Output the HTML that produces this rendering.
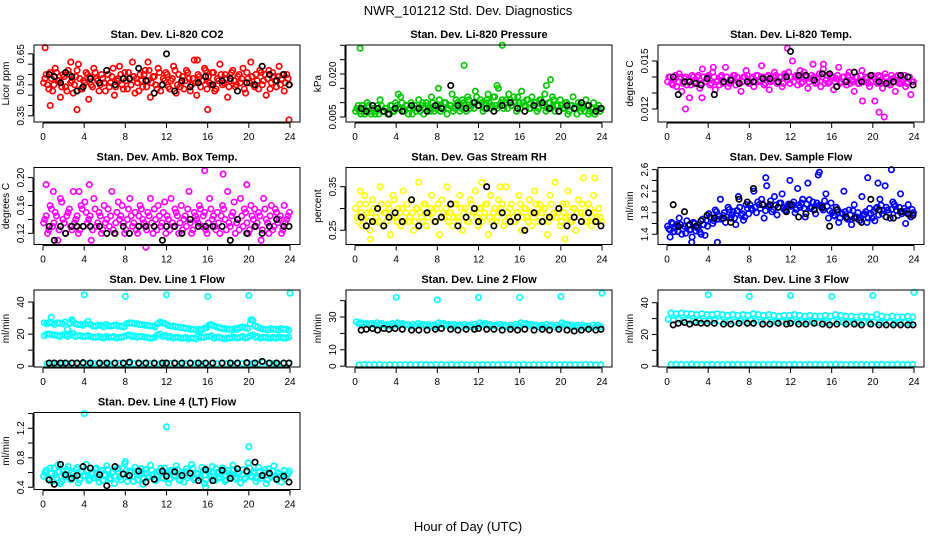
<!DOCTYPE html>
<html><head><meta charset="utf-8">
<style>
html,body{margin:0;padding:0;background:#fff;}
svg{display:block;font-family:"Liberation Sans",Arial,sans-serif;}
</style></head>
<body>
<svg id="chart" width="936" height="540" viewBox="0 0 936 540">
<text x="468" y="15" text-anchor="middle" font-size="13">NWR_101212 Std. Dev. Diagnostics</text>
<text x="468" y="531" text-anchor="middle" font-size="13">Hour of Day (UTC)</text>
</svg>
<script>
// ---- data ----
const xTicks = [0,4,8,12,16,20,24];
const blackHrs = [0.6,1.1,1.7,2.2,2.8,3.3,3.9,4.6,5.5,6.2,7.0,7.8,8.4,9.3,10.0,10.8,11.6,12.0,12.8,13.5,14.3,15.1,15.8,16.5,17.4,18.2,18.9,19.8,20.6,21.3,22.0,22.7,23.4,23.9];

const co2Vals = [0.53,0.50,0.56,0.47,0.58,0.52,0.44,0.55,0.49,0.57,0.51,0.46,0.54,0.60,0.48,0.52,0.56,0.43,0.50,0.58,0.53,0.47,0.55,0.51,0.57,0.49,0.54,0.45,0.52,0.59,0.50,0.56,0.48,0.53,0.61,0.46,0.51,0.55,0.49,0.57,0.52,0.44,0.54,0.50,0.58,0.47,0.53,0.56,0.49,0.52,0.59,0.46,0.55,0.51,0.48,0.57,0.53,0.50,0.62,0.45,0.54,0.52,0.58,0.48,0.51,0.56,0.47,0.53,0.60,0.50,0.55,0.44,0.52,0.57,0.49,0.54,0.51,0.58,0.46,0.53,0.61,0.50,0.55,0.48,0.56,0.52,0.45,0.57,0.51,0.54,0.49,0.59,0.53,0.47,0.55,0.50];
const co2Vals2 = [0.51,0.55,0.48,0.53,0.50,0.56,0.52,0.49,0.54,0.47,0.55,0.52,0.50,0.57,0.53,0.48,0.51,0.55,0.54,0.49,0.56,0.52,0.50,0.53,0.47,0.55,0.51,0.58,0.49,0.53,0.55,0.48,0.52,0.56,0.50,0.54,0.53,0.47,0.52,0.55,0.49,0.57,0.51,0.54,0.48,0.56,0.50,0.52,0.55,0.48,0.53,0.57,0.50,0.49,0.54,0.52,0.56,0.47,0.53,0.51,0.55,0.49,0.52,0.57,0.54,0.50,0.56,0.48,0.52,0.55,0.51,0.53,0.49,0.56,0.52,0.50,0.55,0.53,0.48,0.56,0.51,0.54,0.49,0.52,0.57,0.50,0.55,0.53,0.48,0.56,0.52,0.54,0.50,0.55,0.51,0.53];
const co2Black = [0.55,0.54,0.51,0.56,0.54,0.47,0.49,0.53,0.51,0.57,0.50,0.53,0.53,0.58,0.52,0.46,0.50,0.65,0.47,0.52,0.49,0.51,0.54,0.50,0.52,0.53,0.47,0.51,0.50,0.59,0.55,0.52,0.55,0.50];
const co2Out = [[0.2,0.68],[3.3,0.38],[0.7,0.40],[23.9,0.33],[16.0,0.38],[15.0,0.62],[2.7,0.61],[10.2,0.61]];

const presVals = [0.008,0.007,0.009,0.006,0.010,0.007,0.008,0.006,0.009,0.011,0.007,0.008,0.006,0.009,0.007,0.010,0.008,0.012,0.007,0.009,0.006,0.010,0.008,0.007,0.011,0.009,0.006,0.010,0.008,0.012,0.007,0.009,0.011,0.008,0.010,0.006,0.009,0.013,0.008,0.010,0.007,0.011,0.009,0.012,0.008,0.010,0.014,0.009,0.011,0.007,0.010,0.013,0.008,0.012,0.009,0.015,0.010,0.008,0.011,0.013,0.009,0.012,0.007,0.010,0.014,0.009,0.011,0.008,0.012,0.010,0.007,0.011,0.009,0.013,0.008,0.010,0.012,0.007,0.009,0.011,0.008,0.010,0.006,0.009,0.012,0.008,0.010,0.007,0.009,0.011,0.006,0.008,0.010,0.007,0.009,0.008];
const presVals2 = [0.007,0.009,0.006,0.008,0.007,0.009,0.006,0.008,0.007,0.006,0.009,0.007,0.008,0.006,0.009,0.007,0.009,0.008,0.010,0.007,0.009,0.008,0.006,0.009,0.008,0.007,0.010,0.008,0.009,0.007,0.010,0.008,0.009,0.007,0.008,0.010,0.008,0.009,0.007,0.011,0.009,0.008,0.010,0.007,0.011,0.009,0.008,0.012,0.009,0.010,0.008,0.011,0.010,0.009,0.012,0.008,0.009,0.011,0.010,0.008,0.011,0.009,0.010,0.012,0.008,0.010,0.009,0.011,0.008,0.009,0.010,0.008,0.011,0.009,0.007,0.010,0.008,0.011,0.009,0.007,0.009,0.008,0.010,0.007,0.009,0.008,0.006,0.009,0.008,0.007,0.009,0.007,0.008,0.006,0.008,0.007];
const presBlack = [0.008,0.007,0.009,0.008,0.007,0.006,0.008,0.007,0.009,0.008,0.007,0.009,0.008,0.016,0.009,0.008,0.010,0.009,0.008,0.007,0.009,0.010,0.008,0.007,0.009,0.010,0.008,0.007,0.009,0.008,0.010,0.009,0.007,0.008];
const presOut = [[0.5,0.029],[10.6,0.023],[14.3,0.030],[19.0,0.018],[4.2,0.013],[8.1,0.015],[13.8,0.016],[18.6,0.016]];

const tempVals = [0.0140,0.0136,0.0138,0.0134,0.0142,0.0131,0.0139,0.0135,0.0127,0.0141,0.0136,0.0140,0.0133,0.0145,0.0137,0.0140,0.0135,0.0143,0.0132,0.0138,0.0140,0.0136,0.0146,0.0134,0.0139,0.0141,0.0135,0.0137,0.0131,0.0140,0.0144,0.0136,0.0139,0.0134,0.0141,0.0137,0.0147,0.0135,0.0140,0.0132,0.0138,0.0143,0.0136,0.0140,0.0134,0.0142,0.0138,0.0136,0.0150,0.0140,0.0135,0.0144,0.0137,0.0141,0.0133,0.0139,0.0148,0.0136,0.0140,0.0134,0.0145,0.0138,0.0136,0.0141,0.0132,0.0139,0.0146,0.0137,0.0140,0.0135,0.0143,0.0138,0.0131,0.0140,0.0136,0.0144,0.0137,0.0139,0.0134,0.0141,0.0125,0.0136,0.0140,0.0133,0.0142,0.0137,0.0135,0.0139,0.0131,0.0141,0.0136,0.0138,0.0134,0.0140,0.0129,0.0137];
const tempVals2 = [0.0137,0.0140,0.0135,0.0141,0.0137,0.0140,0.0136,0.0140,0.0138,0.0135,0.0140,0.0137,0.0141,0.0136,0.0140,0.0137,0.0141,0.0136,0.0140,0.0137,0.0135,0.0141,0.0137,0.0140,0.0136,0.0138,0.0141,0.0140,0.0136,0.0137,0.0140,0.0141,0.0136,0.0140,0.0137,0.0141,0.0138,0.0140,0.0136,0.0141,0.0137,0.0140,0.0141,0.0137,0.0140,0.0136,0.0141,0.0143,0.0140,0.0137,0.0141,0.0140,0.0136,0.0143,0.0140,0.0137,0.0141,0.0140,0.0137,0.0142,0.0140,0.0136,0.0141,0.0137,0.0140,0.0137,0.0141,0.0136,0.0140,0.0137,0.0141,0.0136,0.0137,0.0140,0.0136,0.0141,0.0137,0.0140,0.0136,0.0137,0.0140,0.0137,0.0141,0.0136,0.0137,0.0140,0.0136,0.0141,0.0137,0.0140,0.0136,0.0137,0.0141,0.0136,0.0140,0.0137];
const tempBlack = [0.0140,0.0129,0.0137,0.0137,0.0136,0.0135,0.0139,0.0129,0.0137,0.0138,0.0136,0.0137,0.0137,0.0139,0.0139,0.0137,0.0140,0.0156,0.0141,0.0141,0.0138,0.0142,0.0142,0.0134,0.0137,0.0143,0.0137,0.0141,0.0137,0.0136,0.0137,0.0141,0.0140,0.0135];
const tempOut = [[1.8,0.0120],[11.7,0.0158],[20.6,0.0118],[21.1,0.0115],[15.2,0.0148],[19.0,0.0125],[3.4,0.0127],[4.5,0.0146]];

const ambVals = [0.14,0.12,0.16,0.13,0.15,0.11,0.17,0.14,0.12,0.15,0.13,0.18,0.14,0.12,0.16,0.13,0.15,0.14,0.11,0.17,0.13,0.15,0.12,0.16,0.14,0.13,0.18,0.12,0.15,0.14,0.16,0.12,0.14,0.17,0.13,0.15,0.12,0.16,0.14,0.13,0.15,0.17,0.12,0.14,0.16,0.13,0.15,0.12,0.14,0.17,0.13,0.15,0.12,0.16,0.14,0.13,0.18,0.12,0.15,0.14,0.16,0.13,0.15,0.12,0.17,0.14,0.13,0.15,0.12,0.16,0.14,0.18,0.13,0.15,0.12,0.14,0.17,0.13,0.15,0.12,0.16,0.14,0.13,0.15,0.11,0.17,0.14,0.12,0.16,0.13,0.15,0.14,0.12,0.16,0.14,0.15];
const ambVals2 = [0.135,0.145,0.125,0.155,0.135,0.145,0.125,0.165,0.135,0.145,0.155,0.125,0.135,0.145,0.125,0.155,0.165,0.135,0.145,0.125,0.155,0.135,0.145,0.125,0.135,0.155,0.145,0.125,0.135,0.165,0.145,0.135,0.125,0.155,0.145,0.135,0.125,0.145,0.155,0.135,0.125,0.145,0.135,0.155,0.125,0.145,0.135,0.165,0.145,0.125,0.135,0.155,0.145,0.135,0.125,0.145,0.155,0.135,0.125,0.145,0.135,0.155,0.145,0.125,0.135,0.155,0.145,0.125,0.135,0.145,0.155,0.125,0.135,0.145,0.165,0.135,0.125,0.145,0.155,0.135,0.125,0.145,0.155,0.135,0.145,0.125,0.155,0.135,0.145,0.125,0.155,0.135,0.145,0.125,0.135,0.145];
const ambBlack = [0.13,0.11,0.13,0.12,0.13,0.13,0.13,0.13,0.13,0.12,0.12,0.13,0.12,0.13,0.13,0.13,0.11,0.13,0.13,0.12,0.14,0.13,0.13,0.13,0.13,0.11,0.14,0.12,0.13,0.12,0.13,0.14,0.13,0.13];
const ambOut = [[0.3,0.19],[4.5,0.19],[15.7,0.21],[17.5,0.205],[10.0,0.10],[19.8,0.19],[1.0,0.18],[3.5,0.18]];

const rhVals = [0.28,0.31,0.26,0.33,0.29,0.25,0.32,0.27,0.30,0.35,0.26,0.29,0.31,0.24,0.33,0.28,0.30,0.26,0.34,0.29,0.27,0.32,0.25,0.30,0.36,0.28,0.31,0.26,0.29,0.33,0.27,0.30,0.24,0.32,0.28,0.35,0.29,0.26,0.31,0.28,0.33,0.25,0.30,0.27,0.32,0.29,0.34,0.26,0.30,0.28,0.31,0.24,0.33,0.29,0.27,0.32,0.30,0.26,0.35,0.28,0.31,0.27,0.29,0.33,0.25,0.30,0.28,0.32,0.26,0.34,0.29,0.31,0.27,0.30,0.24,0.33,0.28,0.36,0.29,0.26,0.31,0.28,0.34,0.27,0.30,0.25,0.32,0.29,0.37,0.27,0.31,0.26,0.33,0.28,0.30,0.27];
const rhVals2 = [0.30,0.27,0.29,0.28,0.31,0.27,0.29,0.30,0.28,0.27,0.31,0.29,0.27,0.30,0.28,0.32,0.27,0.29,0.30,0.27,0.31,0.28,0.29,0.27,0.30,0.29,0.27,0.31,0.28,0.30,0.29,0.27,0.31,0.28,0.29,0.30,0.27,0.29,0.28,0.31,0.27,0.30,0.29,0.28,0.27,0.31,0.29,0.28,0.30,0.27,0.29,0.31,0.28,0.27,0.30,0.28,0.29,0.31,0.27,0.29,0.30,0.28,0.27,0.29,0.31,0.28,0.30,0.27,0.29,0.28,0.31,0.27,0.29,0.30,0.28,0.27,0.31,0.29,0.28,0.30,0.27,0.29,0.31,0.28,0.27,0.30,0.29,0.28,0.31,0.29,0.27,0.30,0.28,0.29,0.27,0.28];
const rhBlack = [0.28,0.26,0.27,0.30,0.26,0.28,0.29,0.27,0.32,0.26,0.29,0.27,0.28,0.31,0.26,0.28,0.30,0.27,0.35,0.26,0.29,0.27,0.28,0.25,0.29,0.27,0.28,0.30,0.26,0.28,0.27,0.29,0.27,0.26];
const rhOut = [[0.5,0.34],[12.3,0.36],[23.3,0.37],[20.4,0.23],[1.5,0.23],[14.1,0.35]];

const flowVals = [1.50,1.62,1.45,1.58,1.70,1.40,1.55,1.65,1.48,1.35,1.60,1.52,1.44,1.68,1.38,1.55,1.72,1.60,1.85,1.68,2.05,1.75,1.62,1.90,1.70,1.82,1.58,2.10,1.75,1.66,1.95,1.78,1.88,2.20,1.80,1.95,2.05,1.70,2.30,1.90,1.82,2.10,1.76,1.98,2.15,1.85,1.92,2.40,1.95,1.80,2.25,1.90,2.05,1.72,2.35,1.88,2.00,1.78,2.50,1.92,1.85,2.15,1.70,1.98,1.75,1.90,1.62,1.80,2.20,1.70,1.85,1.58,1.95,1.72,1.66,2.10,1.78,1.62,1.88,1.70,1.65,1.90,2.05,1.78,2.30,1.85,1.70,2.00,1.92,1.75,2.15,1.82,1.60,1.95,1.72,1.80];
const flowVals2 = [1.55,1.48,1.60,1.52,1.45,1.58,1.50,1.42,1.56,1.49,1.62,1.46,1.53,1.40,1.58,1.66,1.78,1.70,1.65,1.82,1.74,1.68,1.80,1.72,1.86,1.76,1.70,1.84,1.90,1.78,1.72,1.88,1.95,1.85,1.90,2.00,1.88,1.96,1.84,1.92,2.02,1.86,1.94,1.90,1.98,1.88,1.84,1.96,1.92,2.00,1.86,1.94,1.98,1.88,1.96,2.04,1.90,1.86,1.98,1.94,1.88,2.02,1.92,1.84,1.80,1.74,1.86,1.70,1.78,1.82,1.68,1.76,1.84,1.72,1.80,1.66,1.76,1.82,1.70,1.78,1.82,1.88,1.76,1.94,1.84,1.90,1.80,1.86,1.96,1.84,1.90,1.78,1.88,1.84,1.76,1.86];
const flowBlack = [1.95,1.55,1.82,1.58,1.55,1.65,1.75,1.70,1.70,1.62,2.05,2.00,2.25,1.95,1.95,1.90,1.82,1.95,1.72,1.78,1.85,1.90,1.55,1.85,1.72,1.70,1.62,2.05,1.85,1.72,1.70,1.82,1.78,1.75];
const flowOut = [[0.3,1.35],[20.5,2.35],[14.8,2.55],[19.5,2.45],[21.8,2.60],[2.4,1.25],[9.6,2.45],[4.9,1.25]];

const l1Upper = [26.5,26.8,27,26.5,23,28,26,25.5,28,25,25.5,24.5,25,25.5,25,24.5,27,26.5,26,25.5,25,24.5,27.5,26.5,25,24.5,24,23.5,23,22.5,22.5,24,26,24.5,23.5,23,22.5,23,24.5,23.5,28.5,24.5,23,22.5,23,22.5,23,22.5];
const l1Upper2 = [27,27.5,26,27,27.5,27,26.5,26,26.5,26,25,25.5,26,25,25.5,25,26.5,27,26.5,26,25.5,25,26.5,27,25.5,25,24.5,24,23.5,23,23,23.5,25.5,25,24,23.5,23,23.5,24,24,26.5,25,23.5,23,23.5,23,23.5,23];
const l1Lower = [20,19.5,19,19.5,18.5,20.5,19,18.5,19,18,18.5,17.5,18,18.5,18,18.5,19.5,19,18.5,18,17.5,18,20,19,18.5,18,17.5,18,17.5,17,18,18.5,19,18,17.5,17.5,18,17.5,18.5,18,19.5,18.5,18,17.5,18,18,17.5,18];
const l1Lower2 = [19,20,19.5,18.5,19.5,19.5,18.5,19,18.5,18.5,18,18,18.5,18,17.5,18,19,18.5,18,18.5,18,17.5,19.5,18.5,18,17.5,18,17.5,17,17.5,18.5,18,18.5,17.5,18,17,17.5,18,18,17.5,19,18,17.5,18,17.5,17.5,18,17.5];
const l1Floor = [1.5,1.8,1.6,1.7,1.5,1.9,1.6,1.5,1.7,1.8,1.6,1.5,1.7,1.6,1.8,1.5,1.6,1.7,1.5,1.8,1.6,1.7,1.5,1.6,1.8,1.7,1.5,1.6,1.7,1.8,1.5,1.6,1.7,1.5,1.8,1.6,1.7,1.5,1.6,1.8,1.7,1.5,2.5,1.6,1.7,1.5,1.6,1.7];
const l1Black = [2,2,2,2,2,2,2.2,2,2,2,2,2,2.5,2,2,2,2,2,2,2,2,2,2,2,2,2,2,2.2,2,3,2,2,2,2];
const l1Out = [[4,44.5],[8,43.5],[12,44.5],[16,43.5],[20,44],[24,45.5],[0.8,30.5],[2.8,29],[20.2,29]];

const l2Upper = [26,25.5,25.5,25,25.5,25,24.5,25,25.5,25,24.5,24.5,25,24.5,24.5,24,25.5,25,24.5,24.5,24,24.5,24,24.5,25.5,25,24.5,24,24.5,24,24,24.5,25.5,25,24.5,24,24,24.5,24,24,25.5,24.5,24,24,24,23.5,24,24];
const l2Upper2 = [27,26.5,26,26,26.5,26,25.5,26,26.5,26,25.5,25.5,26,25.5,25.5,25,26.5,26,25.5,25.5,25,25.5,25,25.5,26.5,26,25.5,25,25.5,25,25,25.5,26.5,26,25.5,25,25,25.5,25,25,26.5,25.5,25,25,25,24.5,25,25];
const l2Mid = [23.5,24,24.5,24,23,23.5,24,23.5,23,24,23.5,23,23.5,24,23.5,23,23,23.5,24,23.5,23,23.5,23,23,23.5,24,23.5,23,23.5,23,23,22.5,23.5,23,23.5,23,22.5,23,23.5,23,23.5,23,22.5,23,23,22.5,23,23];
const l2Floor = [0.8,1,0.8,0.9,1,0.8,0.9,0.8,1,0.8,0.9,0.8,1,0.9,0.8,0.9,1,0.8,0.9,0.8,1,0.9,0.8,0.9,1,0.8,0.9,0.8,1,0.9,0.8,0.9,1,0.8,0.9,0.8,1,0.9,0.8,0.9,1,0.8,0.9,0.8,1,0.9,0.8,0.9];
const l2Black = [22,22.5,23,22,23,22.5,23,22.5,22,22,22,22.5,23,22.5,22,22.5,22.5,23,22.5,22.5,22,22.5,22,22.5,22,22.5,22,22.5,22,21.5,22,22.5,22,22.5];
const l2Out = [[4,42],[8,40.5],[12,42],[16,42],[20,42.5],[24,44.5]];

const l3Upper = [33.5,33,33.5,33,33,32.5,33,32.5,32.5,33,32.5,32,32.5,32,32.5,32,33,32.5,32,32.5,32,31.5,32,32,32.5,32,31.5,32,31.5,31.5,32,31.5,32.5,32,31.5,31.5,31,31.5,31.5,31,32.5,31.5,31,31.5,31,31,31.5,31];
const l3Lower = [29.5,29,29.5,29,29,28.5,29,28.5,28.5,29,28.5,28,28.5,28,28.5,28,29,28.5,28,28.5,28,28,28,28,28.5,28,27.5,28,28,27.5,28,27.5,28.5,28,27.5,27.5,27.5,27.5,27.5,27.5,28,27.5,27.5,27.5,27,27.5,27.5,27];
const l3Floor = [1,1.2,1,1.1,1.2,1,1.1,1,1.2,1,1.1,1,1.2,1.1,1,1.1,1.2,1,1.1,1,1.2,1.1,1,1.1,1.2,1,1.1,1,1.2,1.1,1,1.1,1.2,1,1.1,1,1.2,1.1,1,1.1,1.2,1,1.1,1,1.2,1.1,1,1.1];
const l3Black = [26,27,27.5,26.5,27.5,27,27,27,26.5,26.5,27,27,27,26.5,26.5,27,26.5,27,26.5,26.5,27,26.5,26,26.5,26.5,26.5,26,26.5,26,26,26,26,26,26];
const l3Out = [[4,45],[8,44],[12,44.5],[16,44],[20,44.5],[24,46.5]];

const l4Vals = [0.60,0.52,0.66,0.48,0.57,0.70,0.45,0.62,0.54,0.68,0.50,0.58,0.64,0.46,0.61,0.55,0.71,0.49,0.59,0.53,0.66,0.47,0.63,0.56,0.69,0.51,0.60,0.45,0.65,0.54,0.58,0.72,0.48,0.62,0.55,0.67,0.50,0.59,0.44,0.64,0.53,0.70,0.57,0.49,0.61,0.66,0.52,0.58,0.46,0.63,0.55,0.69,0.51,0.60,0.47,0.65,0.56,0.71,0.50,0.59,0.53,0.67,0.45,0.62,0.57,0.68,0.49,0.60,0.54,0.66,0.48,0.63,0.56,0.70,0.51,0.59,0.46,0.64,0.53,0.73,0.55,0.61,0.48,0.67,0.52,0.60,0.45,0.65,0.54,0.69,0.50,0.58,0.47,0.63,0.56,0.62];
const l4Vals2 = [0.55,0.63,0.50,0.59,0.66,0.53,0.61,0.48,0.57,0.64,0.52,0.60,0.55,0.67,0.50,0.62,0.56,0.63,0.51,0.58,0.65,0.53,0.60,0.49,0.57,0.64,0.52,0.61,0.55,0.66,0.50,0.58,0.63,0.54,0.60,0.48,0.62,0.56,0.65,0.52,0.59,0.55,0.63,0.50,0.57,0.61,0.53,0.66,0.58,0.51,0.62,0.56,0.64,0.49,0.57,0.61,0.53,0.60,0.66,0.52,0.58,0.55,0.63,0.50,0.61,0.54,0.59,0.65,0.52,0.57,0.62,0.50,0.59,0.55,0.64,0.53,0.60,0.57,0.51,0.62,0.66,0.54,0.59,0.52,0.61,0.56,0.64,0.50,0.58,0.62,0.53,0.60,0.55,0.57,0.51,0.59];
const l4Black = [0.50,0.44,0.71,0.57,0.52,0.56,0.68,0.66,0.57,0.42,0.68,0.58,0.56,0.62,0.47,0.51,0.62,0.55,0.61,0.56,0.59,0.49,0.64,0.49,0.63,0.52,0.65,0.62,0.74,0.56,0.59,0.51,0.55,0.47];
const l4Out = [[4,1.40],[12,1.22],[20,0.95],[15.8,0.40],[8,0.75]];

// ---- layout ----
const colX = [34, 346, 658];
const rowY = [45, 167.5, 290, 412.5];
const boxW = 266, boxH = 77;
const NS = 'http://www.w3.org/2000/svg';
const svg = document.getElementById('chart');

function mk(tag, attrs, parent){
  const e = document.createElementNS(NS, tag);
  for (const k in attrs) e.setAttribute(k, attrs[k]);
  (parent||svg).appendChild(e);
  return e;
}

const panels = [
 {title:'Stan. Dev. Li-820 CO2', ylab:'Licor ppm', col:0,row:0, ymin:0.32, ymax:0.693, ticks:[0.35,0.40,0.45,0.50,0.55,0.60,0.65], labels:[0.35,0.50,0.65], fmt:2, color:'#ff0000', series:[co2Vals,co2Vals2], out:co2Out, black:co2Black},
 {title:'Stan. Dev. Li-820 Pressure', ylab:'kPa', col:1,row:0, ymin:0.00326, ymax:0.0301, ticks:[0.005,0.010,0.015,0.020,0.025,0.030], labels:[0.005,0.020], fmt:3, color:'#00cc00', series:[presVals,presVals2], out:presOut, black:presBlack},
 {title:'Stan. Dev. Li-820 Temp.', ylab:'degrees C', col:2,row:0, ymin:0.01119, ymax:0.0160, ticks:[0.012,0.013,0.014,0.015], labels:[0.012,0.015], fmt:3, color:'#ff00ff', series:[tempVals,tempVals2], out:tempOut, black:tempBlack},
 {title:'Stan. Dev. Amb. Box Temp.', ylab:'degrees C', col:0,row:1, ymin:0.104, ymax:0.2145, ticks:[0.12,0.14,0.16,0.18,0.20], labels:[0.12,0.16,0.20], fmt:2, color:'#ff00ff', series:[ambVals,ambVals2], out:ambOut, black:ambBlack},
 {title:'Stan. Dev. Gas Stream RH', ylab:'percent', col:1,row:1, ymin:0.2174, ymax:0.394, ticks:[0.25,0.30,0.35], labels:[0.25,0.35], fmt:2, color:'#ffff00', series:[rhVals,rhVals2], out:rhOut, black:rhBlack},
 {title:'Stan. Dev. Sample Flow', ylab:'ml/min', col:2,row:1, ymin:1.21, ymax:2.64, ticks:[1.4,1.6,1.8,2.0,2.2,2.4,2.6], labels:[1.4,1.8,2.2,2.6], fmt:1, color:'#0000ff', series:[flowVals,flowVals2], out:flowOut, black:flowBlack},
 {title:'Stan. Dev. Line 1 Flow', ylab:'ml/min', col:0,row:2, ymin:-0.5, ymax:47.5, ticks:[0,10,20,30,40], labels:[0,20,40], fmt:0, color:'#00ffff', series:[l1Upper,l1Upper2,l1Lower,l1Lower2,l1Floor], out:l1Out, black:l1Black},
 {title:'Stan. Dev. Line 2 Flow', ylab:'ml/min', col:1,row:2, ymin:-0.5, ymax:46.5, ticks:[0,10,20,30,40], labels:[0,10,30], fmt:0, color:'#00ffff', series:[l2Upper,l2Upper2,l2Floor], out:l2Out, black:l2Black},
 {title:'Stan. Dev. Line 3 Flow', ylab:'ml/min', col:2,row:2, ymin:-0.5, ymax:48, ticks:[0,10,20,30,40], labels:[0,20,40], fmt:0, color:'#00ffff', series:[l3Upper,l3Lower,l3Floor], out:l3Out, black:l3Black},
 {title:'Stan. Dev. Line 4 (LT) Flow', ylab:'ml/min', col:0,row:3, ymin:0.37, ymax:1.414, ticks:[0.4,0.6,0.8,1.0,1.2,1.4], labels:[0.4,0.8,1.2], fmt:1, color:'#00ffff', series:[l4Vals,l4Vals2], out:l4Out, black:l4Black},
];

panels.forEach((p, pi) => {
  const x0 = colX[p.col], y0 = rowY[p.row];
  const g = mk('g', {});
  
  
  const xs = h => x0 + 9 + h * (247/24);
  const ys = v => y0 + boxH - (v - p.ymin) / (p.ymax - p.ymin) * boxH;

  const t = mk('text', {x: x0 + boxW/2, y: y0 - 7, 'text-anchor':'middle', 'font-size':11, 'font-weight':'bold'}, g);
  t.textContent = p.title;
  
  

  const drawPt = (h, v, col, name) => {
    const c = mk('circle', {cx: xs(h).toFixed(1), cy: ys(v).toFixed(1), r: 2.7, fill:'none', stroke: col, 'stroke-width': 1.7}, g);
    
    
  };
  p.series.forEach((arr, si) => {
    const step = 24 / arr.length;
    const off = si % 2 ? step * 0.25 : step * 0.75;
    arr.forEach((v, i) => drawPt(i * step + off, v, p.color, 'data-point'));
  });
  p.out.forEach(o => drawPt(o[0], o[1], p.color, 'data-point'));
  p.black.forEach((v, i) => drawPt(blackHrs[i], v, '#000', 'reference-point'));

  const r = mk('rect', {x:x0, y:y0, width:boxW, height:boxH, fill:'none', stroke:'#000', 'stroke-width':1}, g);
  
  

  const xa = mk('g', {}, g);
  
  
  mk('line', {x1:xs(0), x2:xs(24), y1:y0+boxH+1, y2:y0+boxH+1, stroke:'#000'}, xa);
  xTicks.forEach(tk => {
    mk('line', {x1:xs(tk), x2:xs(tk), y1:y0+boxH+1, y2:y0+boxH+6, stroke:'#000'}, xa);
    const tl = mk('text', {x:xs(tk), y:y0+boxH+18, 'text-anchor':'middle', 'font-size':10}, xa);
    tl.textContent = tk;
    
    
  });

  const ya = mk('g', {}, g);
  
  
  mk('line', {x1:x0-1, x2:x0-1, y1:ys(p.ticks[0]), y2:ys(p.ticks[p.ticks.length-1]), stroke:'#000'}, ya);
  p.ticks.forEach(tk => mk('line', {x1:x0-6, x2:x0-1, y1:ys(tk), y2:ys(tk), stroke:'#000'}, ya));
  p.labels.forEach(tk => {
    const yy = ys(tk);
    const tl = mk('text', {x:x0-10, y:yy, transform:`rotate(-90 ${x0-10} ${yy})`, 'text-anchor':'middle', 'font-size':10}, ya);
    tl.textContent = tk.toFixed(p.fmt);
    
    
  });
  const ym = y0 + boxH/2;
  const yt = mk('text', {x:x0-25, y:ym, transform:`rotate(-90 ${x0-25} ${ym})`, 'text-anchor':'middle', 'font-size':10}, ya);
  yt.textContent = p.ylab;
  
  
});
</script>
</body></html>
